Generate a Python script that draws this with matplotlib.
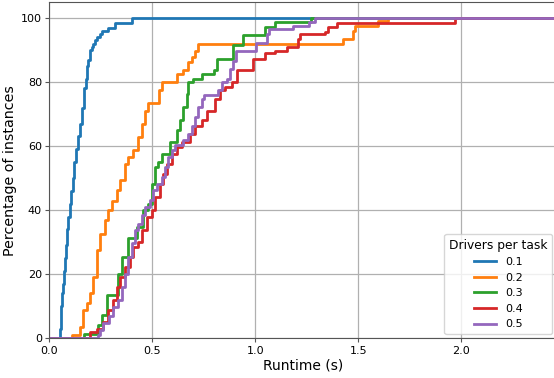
"""
Runtime CDF for different drivers-per-task ratios
"""

import matplotlib
import matplotlib.pyplot as plt

matplotlib.use('Agg')

# Series labels (drivers per task)
LABELS = ['0.1', '0.2', '0.3', '0.4', '0.5']
COLORS = ['#1f77b4', '#ff7f0e', '#2ca02c', '#d62728', '#9467bd']

# Step points: runtime (s) -> percentage reached
T_01 = [0.0, 0.052, 0.055, 0.058, 0.063, 0.066, 0.072, 0.076, 0.082, 0.087,
        0.093, 0.100, 0.106, 0.113, 0.121, 0.130, 0.140, 0.149, 0.160, 0.170,
        0.176, 0.181, 0.190, 0.198, 0.207, 0.214, 0.222, 0.230, 0.245, 0.254,
        0.287, 0.319, 0.400]
P_01 = [0, 3, 7, 10, 14, 17, 21, 25, 29, 34,
        38, 42, 46, 50, 55, 59, 63, 67, 72, 78,
        81, 85, 87, 90, 91, 92, 93, 94, 95, 96,
        97, 98.5, 100]

T_02 = [0.0, 0.109, 0.149, 0.165, 0.182, 0.198, 0.214, 0.230, 0.246, 0.270,
        0.287, 0.303, 0.327, 0.343, 0.367, 0.384, 0.408, 0.432, 0.448, 0.465,
        0.481, 0.530, 0.546, 0.618, 0.650, 0.675, 0.691, 0.707, 0.723, 1.427,
        1.476, 1.484, 1.597, 1.646]
P_02 = [0, 1, 3.6, 8.8, 11, 14, 19.2, 27.5, 32.7, 36.9,
        40, 43, 46.2, 49.3, 54.5, 56.6, 58.7, 62.8, 67, 71.1,
        73.5, 77.4, 80, 82.6, 83.6, 86.2, 87.8, 89.8, 91.8, 93.5,
        96, 97.6, 99, 100]

T_03 = [0.0, 0.166, 0.238, 0.254, 0.279, 0.335, 0.351, 0.384, 0.424, 0.456,
        0.481, 0.497, 0.513, 0.529, 0.546, 0.586, 0.618, 0.634, 0.650, 0.667,
        0.675, 0.699, 0.740, 0.797, 0.812, 0.893, 0.942, 1.047, 1.096, 1.270]
P_03 = [0, 1.5, 4.2, 7.3, 13.5, 20.2, 25.4, 31.2, 34.8, 40,
        42, 48.3, 53.5, 55, 57.6, 61.2, 64.9, 68, 72.1, 76.3,
        80, 81, 82.6, 83.6, 87.2, 91.4, 94.8, 97.3, 98.6, 100]

T_04 = [0.0, 0.198, 0.230, 0.260, 0.287, 0.310, 0.327, 0.343, 0.367, 0.392,
        0.408, 0.430, 0.448, 0.473, 0.497, 0.513, 0.537, 0.553, 0.570, 0.594,
        0.618, 0.643, 0.683, 0.707, 0.740, 0.764, 0.804, 0.829, 0.853, 0.885,
        0.910, 0.990, 1.047, 1.096, 1.152, 1.209, 1.217, 1.338, 1.354, 1.395,
        1.969]
P_04 = [0, 2, 3, 5, 8.8, 12, 16.1, 19.2, 22.3, 25.4,
        28.5, 30, 33.7, 37.9, 40, 44.1, 48.3, 51.4, 54.5, 57.6,
        59.7, 61.2, 63.9, 66.4, 68, 71.1, 74.8, 77.4, 78.4, 80,
        83.6, 87.2, 88.9, 89.8, 90.8, 93.5, 95, 95.5, 97.1, 98.4,
        100]

T_05 = [0.0, 0.238, 0.246, 0.262, 0.290, 0.311, 0.335, 0.351, 0.367, 0.384,
        0.400, 0.416, 0.432, 0.448, 0.465, 0.489, 0.505, 0.521, 0.546, 0.562,
        0.578, 0.594, 0.610, 0.650, 0.675, 0.691, 0.707, 0.723, 0.740, 0.750,
        0.820, 0.840, 0.861, 0.877, 0.893, 0.905, 1.005, 1.055, 1.068, 1.185,
        1.260, 1.290]
P_05 = [0, 1, 2.6, 4.7, 7, 9.8, 11.9, 16.1, 20.2, 25.4,
        29.6, 33.7, 35.8, 38.4, 41, 43.1, 46.2, 48.3, 50.3, 53.5,
        56.6, 58.7, 60.2, 61.8, 63.9, 66.4, 69, 72.1, 74.8, 75.8,
        77.4, 80, 81, 84.1, 86.7, 89.8, 92.2, 95, 96.6, 97.6,
        98.6, 100]

TIMES = [T_01, T_02, T_03, T_04, T_05]
PCTS = [P_01, P_02, P_03, P_04, P_05]

X_MAX = 2.46
Y_MAX = 105

fig = plt.figure(figsize=(5.54, 3.78), dpi=100)
# right edge of the axes sits just past the figure edge, like the reference crop
ax = fig.add_axes([0.089, 0.105, 0.915, 0.89])

for times, pcts, label, color in zip(TIMES, PCTS, LABELS, COLORS):
    # extend each curve to the right edge of the plot
    xs = list(times) + [X_MAX]
    ys = list(pcts) + [pcts[-1]]
    ax.step(xs, ys, where='post', color=color, linewidth=2, label=label)

ax.set_xlim(0, X_MAX)
ax.set_ylim(0, Y_MAX)
ax.set_xticks([0.0, 0.5, 1.0, 1.5, 2.0])
ax.set_yticks([0, 20, 40, 60, 80, 100])
ax.tick_params(labelsize=8, length=2.8, pad=2.5, color='#555555')
ax.grid(True, color='#b0b0b0', linewidth=0.9)
ax.set_axisbelow(True)

for side in ['top', 'right', 'bottom', 'left']:
    ax.spines[side].set_color('#555555')

ax.set_xlabel('Runtime (s)', fontsize=10, labelpad=2)
ax.set_ylabel('Percentage of instances', fontsize=10.3, labelpad=3)

ax.legend(title='Drivers per task', loc='lower right', fontsize=8,
          title_fontsize=8.8, borderaxespad=0.4)

fig.savefig('out.png', dpi=100)
